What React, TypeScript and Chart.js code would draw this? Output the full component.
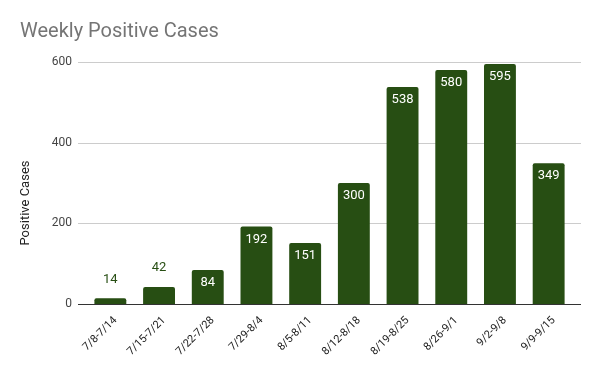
import React, { useEffect, useRef } from "react";
import { Chart, registerables } from "chart.js";

Chart.register(...registerables);

const categories = ["7/8-7/14", "7/15-7/21", "7/22-7/28", "7/29-8/4", "8/5-8/11", "8/12-8/18", "8/19-8/25", "8/26-9/1", "9/2-9/8", "9/9-9/15"];
const cases = [14, 42, 84, 192, 151, 300, 538, 580, 595, 349];
const yTicks = [0, 200, 400, 600];
const yTitle = "Positive Cases";

const BAR = "#274e13";

const gridPlugin = {
  id: "customGrid",
  beforeDatasetsDraw(chart: any) {
    const { ctx, chartArea, scales } = chart;
    const y = scales.y;
    const l = chartArea.left - 8;
    const r = chartArea.right + 8;
    ctx.save();
    for (const v of yTicks) {
      const py = Math.round(y.getPixelForValue(v)) + 0.5;
      ctx.beginPath();
      ctx.strokeStyle = v === 0 ? "#333333" : "#cccccc";
      ctx.lineWidth = 1;
      ctx.moveTo(l, py);
      ctx.lineTo(r, py);
      ctx.stroke();
    }
    ctx.restore();
  },
};

const labelPlugin = {
  id: "barLabels",
  afterDatasetsDraw(chart: any) {
    const { ctx, chartArea } = chart;
    const meta = chart.getDatasetMeta(0);
    ctx.save();
    ctx.font = "13px Roboto";
    ctx.textAlign = "center";
    ctx.textBaseline = "middle";
    meta.data.forEach((bar: any, i: number) => {
      const v = cases[i];
      const inside = v >= 60;
      if (inside) {
        ctx.fillStyle = "#ffffff";
        ctx.fillText(String(v), bar.x, bar.y + 13);
      } else {
        ctx.fillStyle = BAR;
        ctx.fillText(String(v), bar.x, bar.y - 19);
      }
    });
    // y axis title
    ctx.translate(26, (chartArea.top + chartArea.bottom) / 2 + 20);
    ctx.rotate(-Math.PI / 2);
    ctx.fillStyle = "#222222";
    ctx.font = "13px Roboto";
    ctx.fillText(yTitle, 0, 0);
    ctx.restore();
  },
};

export default function App() {
  const ref = useRef<HTMLCanvasElement | null>(null);
  useEffect(() => {
    document.body.style.margin = "0";
    const chart = new Chart(ref.current!, {
      type: "bar",
      data: {
        labels: categories,
        datasets: [
          {
            data: cases,
            backgroundColor: BAR,
            borderRadius: 2,
            borderSkipped: "start",
            barPercentage: 0.655,
            categoryPercentage: 1,
          },
        ],
      },
      options: {
        animation: false,
        responsive: false,
        maintainAspectRatio: false,
        layout: { padding: { left: 20, right: 27, top: 0, bottom: 0 } },
        plugins: {
          legend: { display: false },
          tooltip: { enabled: false },
          title: {
            display: true,
            text: "Weekly Positive Cases",
            align: "start",
            color: "#757575",
            font: { family: "Roboto", size: 20, weight: "normal" },
            padding: { top: 20, bottom: 18 },
          },
        },
        scales: {
          x: {
            grid: { display: false, drawTicks: false },
            border: { display: false },
            ticks: {
              color: "#222222",
              font: { family: "Roboto", size: 11 },
              minRotation: 45,
              maxRotation: 45,
              padding: 10,
              labelOffset: 5,
              autoSkip: false,
            },
            afterFit(scale: any) {
              scale.height = 67;
            },
          },
          y: {
            min: 0,
            max: 600,
            grid: { display: false, drawTicks: false },
            border: { display: false },
            ticks: {
              stepSize: 200,
              color: "#444444",
              font: { family: "Roboto", size: 12 },
              padding: 14,
            },
            afterFit(scale: any) {
              scale.width = 66;
            },
          },
        },
      },
      plugins: [gridPlugin, labelPlugin],
    });
    return () => chart.destroy();
  }, []);
  return <canvas ref={ref} width={600} height={371} style={{ display: "block" }} />;
}
